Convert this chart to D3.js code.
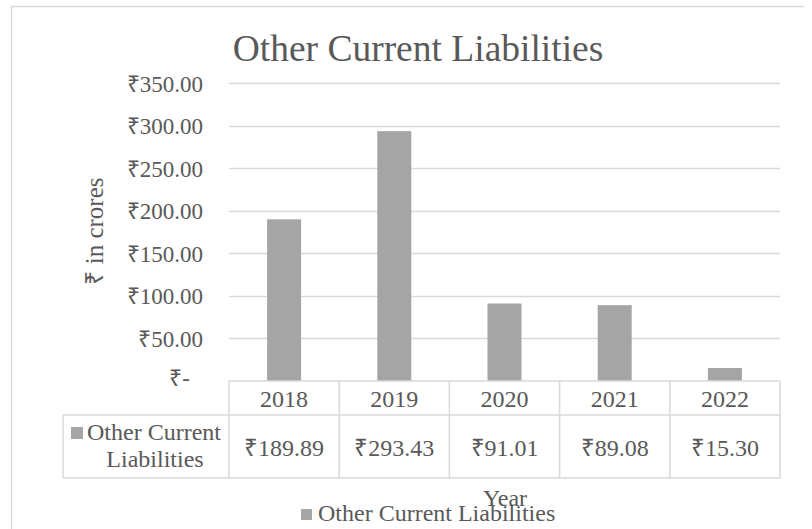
<!DOCTYPE html>
<html>
<head>
<meta charset="utf-8">
<script src="https://cdn.jsdelivr.net/npm/d3@7"></script>
<style>
  body { margin: 0; background: #fff; }
  text { font-family: "Liberation Serif", "Times New Roman", serif; fill: #595959; }
</style>
</head>
<body>
<svg id="chart"></svg>
<script>
// Chart data
const years = ["2018", "2019", "2020", "2021", "2022"];
const liabilities = [189.89, 293.43, 91.01, 89.08, 15.30];
const yTicks = [0, 50, 100, 150, 200, 250, 300, 350];
const seriesName = "Other Current Liabilities";

const W = 812, H = 529;
const plot = { left: 229, right: 780, top: 83, bottom: 381 };
const gridColor = "#d9d9d9";
const barColor = "#a5a5a5";
const fs = "24px";

const svg = d3.select("#chart").attr("width", W).attr("height", H);

// outer chart border (right/bottom edges fall outside the picture)
svg.append("path")
  .attr("d", "M11.5,540V6.5H803.5")
  .attr("fill", "none")
  .attr("stroke", gridColor)
  .attr("stroke-width", 1.5);

// Scales
const x = d3.scaleBand()
  .domain(years)
  .range([plot.left, plot.right]);

const y = d3.scaleLinear()
  .domain([0, 350])
  .range([plot.bottom, plot.top]);

// Title
svg.append("text")
  .attr("x", 418)
  .attr("y", 61)
  .attr("text-anchor", "middle")
  .style("font-size", "37.5px")
  .text(seriesName);

// Gridlines
svg.append("g")
  .selectAll("line")
  .data(yTicks.filter(d => d > 0))
  .enter()
  .append("line")
  .attr("x1", plot.left)
  .attr("x2", plot.right)
  .attr("y1", d => Math.round(y(d)) + 0.5)
  .attr("y2", d => Math.round(y(d)) + 0.5)
  .attr("stroke", gridColor)
  .attr("stroke-width", 1.5);

// Y axis labels
const yAxis = d3.axisLeft(y)
  .tickValues(yTicks)
  .tickSize(0)
  .tickPadding(0)
  .tickFormat(d => d === 0 ? "₹-" : "₹" + d.toFixed(2));

const yAxisG = svg.append("g")
  .attr("transform", `translate(203,0)`)
  .call(yAxis);
yAxisG.select(".domain").remove();
yAxisG.selectAll("text")
  .attr("fill", null)
  .style("font-size", "23px")
  .style("font-family", "Liberation Serif, serif")
  .attr("dy", "0.35em");
yAxisG.selectAll(".tick")
  .filter(d => d === 0)
  .select("text")
  .attr("x", -13)
  .attr("dy", "0.2em");

// Y axis title
svg.append("text")
  .attr("transform", "translate(103,231) rotate(-90)")
  .attr("text-anchor", "middle")
  .style("font-size", "25px")
  .text("₹ in crores");

// Bars
const barW = 34;
svg.append("g")
  .selectAll("rect")
  .data(years.map((yr, i) => ({ year: yr, value: liabilities[i] })))
  .enter()
  .append("rect")
  .attr("x", d => x(d.year) + (x.bandwidth() - barW) / 2)
  .attr("y", d => y(d.value))
  .attr("width", barW)
  .attr("height", d => y(0) - y(d.value))
  .attr("fill", barColor);

// Data table
const rowTop = plot.bottom, rowMid = 415, rowBot = 478, headLeft = 63;
const table = svg.append("g")
  .attr("stroke", gridColor)
  .attr("stroke-width", 1.5)
  .attr("fill", "none");

table.append("line").attr("x1", plot.left).attr("x2", plot.right).attr("y1", rowTop).attr("y2", rowTop);
table.append("line").attr("x1", headLeft).attr("x2", plot.right).attr("y1", rowMid).attr("y2", rowMid);
table.append("line").attr("x1", headLeft).attr("x2", plot.right).attr("y1", rowBot).attr("y2", rowBot);
table.append("line").attr("x1", headLeft).attr("x2", headLeft).attr("y1", rowMid).attr("y2", rowBot);

// vertical column lines
table.selectAll("line.col")
  .data(years.concat(["end"]))
  .enter()
  .append("line")
  .attr("class", "col")
  .attr("x1", d => d === "end" ? plot.right : x(d))
  .attr("x2", d => d === "end" ? plot.right : x(d))
  .attr("y1", rowTop)
  .attr("y2", rowBot);

// year header labels
svg.append("g")
  .selectAll("text")
  .data(years)
  .enter()
  .append("text")
  .attr("x", d => x(d) + x.bandwidth() / 2)
  .attr("y", 407)
  .attr("text-anchor", "middle")
  .style("font-size", fs)
  .text(d => d);

// value cells
svg.append("g")
  .selectAll("text")
  .data(liabilities)
  .enter()
  .append("text")
  .attr("x", (d, i) => x(years[i]) + x.bandwidth() / 2)
  .attr("y", 456)
  .attr("text-anchor", "middle")
  .style("font-size", fs)
  .text(d => "₹" + d.toFixed(2));

// row header with legend key
svg.append("rect")
  .attr("x", 71).attr("y", 427).attr("width", 12).attr("height", 12)
  .attr("fill", barColor);
svg.append("text")
  .attr("x", 87).attr("y", 440)
  .style("font-size", fs)
  .text("Other Current");
svg.append("text")
  .attr("x", 155).attr("y", 467)
  .attr("text-anchor", "middle")
  .style("font-size", fs)
  .text("Liabilities");

// X axis title
svg.append("text")
  .attr("x", 505)
  .attr("y", 506)
  .attr("text-anchor", "middle")
  .style("font-size", fs)
  .text("Year");

// Legend
svg.append("rect")
  .attr("x", 301).attr("y", 509).attr("width", 11).attr("height", 11)
  .attr("fill", barColor);
svg.append("text")
  .attr("x", 318)
  .attr("y", 521)
  .style("font-size", fs)
  .text(seriesName);
</script>
</body>
</html>
